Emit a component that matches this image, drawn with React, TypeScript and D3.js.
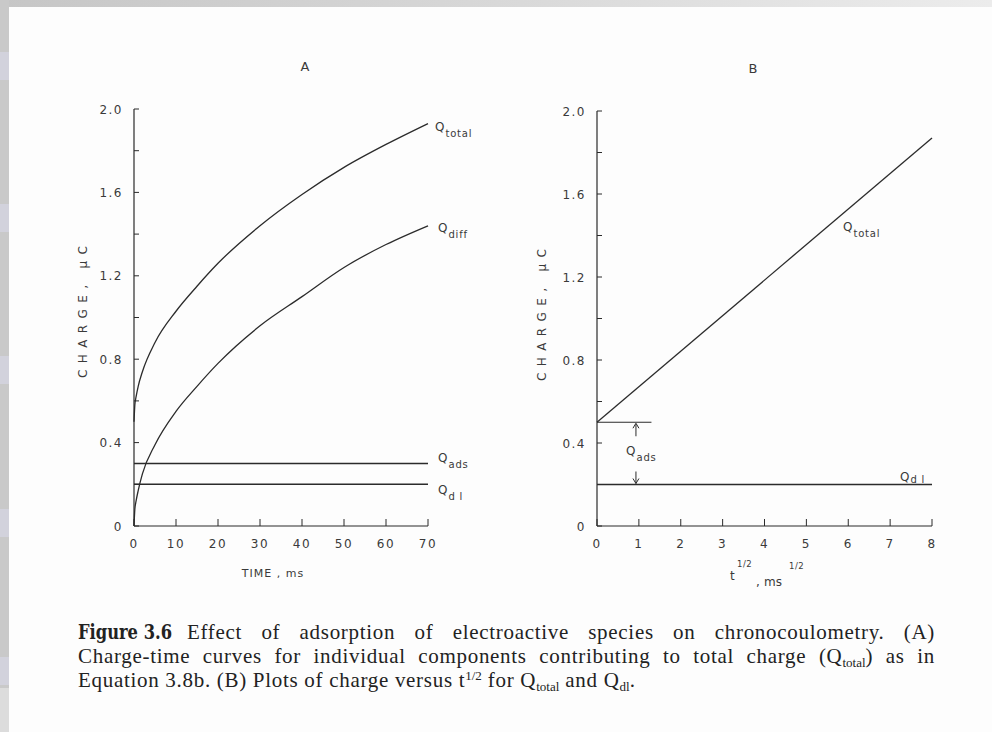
import React, { useLayoutEffect, useRef } from 'react';
import * as d3 from 'd3';

// ---------- data ----------
const timeA = [0, 0.2, 0.5, 1, 2, 5, 10, 15, 20, 30, 40, 50, 60, 70];
const qTotalA = [0.5, 0.58, 0.62, 0.67, 0.74, 0.88, 1.03, 1.15, 1.26, 1.44, 1.59, 1.72, 1.83, 1.93];
const qDiffA = [0, 0.08, 0.12, 0.17, 0.25, 0.39, 0.55, 0.67, 0.78, 0.96, 1.1, 1.24, 1.35, 1.44];
const timeSpanA = [0, 70];
const qAdsA = [0.3, 0.3];
const qDlA = [0.2, 0.2];

const sqrtTB = [0, 8];
const qTotalB = [0.5, 1.87];
const qDlB = [0.2, 0.2];
const qAdsMarkSpanB = [0, 1.3];
const qAdsMarkLevelB = 0.5;

const xTicksA = [0, 10, 20, 30, 40, 50, 60, 70];
const xTicksB = [0, 1, 2, 3, 4, 5, 6, 7, 8];
const yMinorTicks = [0, 0.2, 0.4, 0.6, 0.8, 1.0, 1.2, 1.4, 1.6, 1.8, 2.0];
const yLabelValues = [0, 0.4, 0.8, 1.2, 1.6, 2.0];
const yLabelTexts = ['0', '0.4', '0.8', '1.2', '1.6', '2.0'];

const INK = '#2b2b2b';
const TXT = '#3a3a3a';
const AXF = '"DejaVu Sans", sans-serif';

type Sc = d3.ScaleLinear<number, number>;

function Axes({ x, y, xTicks }: { x: Sc; y: Sc; xTicks: number[] }) {
  const x0 = x(0);
  const yb = y(0);
  const labelRight = x0 - 11;
  return (
    <g>
      <line x1={x0} x2={x0} y1={y(0)} y2={y(2)} stroke={INK} strokeWidth={1.2} />
      <line x1={x0} x2={x(xTicks[xTicks.length - 1])} y1={yb} y2={yb} stroke={INK} strokeWidth={1.2} />
      {yMinorTicks.map((v) => (
        <line key={'yt' + v} x1={x0} x2={x0 + 5} y1={y(v)} y2={y(v)} stroke={INK} strokeWidth={1} />
      ))}
      {xTicks.map((v) => (
        <line key={'xt' + v} x1={x(v)} x2={x(v)} y1={yb} y2={yb - 7} stroke={INK} strokeWidth={1} />
      ))}
      {yLabelValues.map((v, i) => (
        <text key={'yl' + v} x={labelRight} y={y(v) + 4.5} textAnchor="end" fontFamily={AXF} fontSize={12}
          fill={TXT} letterSpacing={1.5}>{yLabelTexts[i]}</text>
      ))}
      {xTicks.map((v) => (
        <text key={'xl' + v} x={x(v)} y={yb + 22} textAnchor="middle" fontFamily={AXF} fontSize={12}
          fill={TXT} letterSpacing={1.5}>{String(v)}</text>
      ))}
    </g>
  );
}

function QLabel({ x, y, sub, drop = 6 }: { x: number; y: number; sub: string; drop?: number }) {
  return (
    <text x={x} y={y} fontFamily={AXF} fontSize={12} fill={TXT}>
      Q
      <tspan dx={1} dy={drop} fontSize={10} letterSpacing={0.8}>{sub}</tspan>
    </text>
  );
}

export default function App() {
  const capRef = useRef<SVGGElement>(null);

  useLayoutEffect(() => {
    const g = capRef.current;
    if (!g) return;
    g.querySelectorAll('text[data-w]').forEach((node) => {
      const el = node as SVGTextElement;
      el.setAttribute('word-spacing', '0');
      const target = Number(el.getAttribute('data-w'));
      const len = el.getComputedTextLength();
      const spaces = ((el.textContent || '').match(/ /g) || []).length;
      if (spaces > 0) el.setAttribute('word-spacing', String((target - len) / spaces));
    });
  }, []);

  // Panel A scales
  const xA = d3.scaleLinear().domain([0, 70]).range([134, 428]);
  const yA = d3.scaleLinear().domain([0, 2]).range([526, 109]);
  // Panel B scales
  const xB = d3.scaleLinear().domain([0, 8]).range([597, 932]);
  const yB = d3.scaleLinear().domain([0, 2]).range([526, 111]);

  const curveA = d3.line<number>().x((_, i) => xA(timeA[i])).y((d) => yA(d)).curve(d3.curveMonotoneX);
  const flatA = d3.line<number>().x((_, i) => xA(timeSpanA[i])).y((d) => yA(d));
  const lineB = d3.line<number>().x((_, i) => xB(sqrtTB[i])).y((d) => yB(d));

  const arrowX = xB(0.93);
  const upTop = yB(qAdsMarkLevelB);
  const dnBot = yB(qDlB[0]);

  const serif = '"Liberation Serif", "Times New Roman", serif';
  const CF = 21;
  const SF = 13;
  const LS = 0.7;

  return (
    <svg width={992} height={732} style={{ position: 'absolute', left: 0, top: 0 }}
      xmlns="http://www.w3.org/2000/svg">
      <defs>
        <linearGradient id="topg" x1="0" x2="1" y1="0" y2="0">
          <stop offset="0" stopColor="#c6c6c6" />
          <stop offset="0.5" stopColor="#d8d8d8" />
          <stop offset="1" stopColor="#ececec" />
        </linearGradient>
      </defs>
      <rect x={0} y={0} width={992} height={732} fill="#fdfdfd" />
      <rect x={0} y={0} width={992} height={7} fill="url(#topg)" />
      <rect x={0} y={0} width={9} height={732} fill="#c9c9c9" />
      {[52, 204, 356, 509, 657].map((b) => (
        <rect key={'band' + b} x={0} y={b} width={9} height={28} fill="#d2d2dc" />
      ))}
      <rect x={0} y={688} width={9} height={44} fill="#dcdcdc" />

      {/* Titles */}
      <text x={305} y={71} textAnchor="middle" fontFamily={AXF} fontSize={13} fill={TXT}>A</text>
      <text x={753} y={73} textAnchor="middle" fontFamily={AXF} fontSize={13} fill={TXT}>B</text>

      {/* Panel A */}
      <Axes x={xA} y={yA} xTicks={xTicksA} />
      <path d={curveA(qTotalA) || ''} fill="none" stroke={INK} strokeWidth={1.3} />
      <path d={curveA(qDiffA) || ''} fill="none" stroke={INK} strokeWidth={1.3} />
      <path d={flatA(qAdsA) || ''} fill="none" stroke={INK} strokeWidth={1.4} />
      <path d={flatA(qDlA) || ''} fill="none" stroke={INK} strokeWidth={1.4} />
      <QLabel x={435} y={131} sub="total" />
      <QLabel x={438} y={232} sub="diff" />
      <QLabel x={438} y={462} sub="ads" />
      <QLabel x={438} y={494} sub="d l" />
      <text transform="translate(87,312) rotate(-90)" textAnchor="middle" fontFamily={AXF} fontSize={12}
        fill={TXT} textLength={132} lengthAdjust="spacing">CHARGE, μC</text>
      <text x={273} y={577} textAnchor="middle" fontFamily={AXF} fontSize={11} fill={TXT}
        letterSpacing={1}>TIME , ms</text>

      {/* Panel B */}
      <Axes x={xB} y={yB} xTicks={xTicksB} />
      <path d={lineB(qTotalB) || ''} fill="none" stroke={INK} strokeWidth={1.3} />
      <path d={lineB(qDlB) || ''} fill="none" stroke={INK} strokeWidth={1.4} />
      <line x1={xB(qAdsMarkSpanB[0])} x2={xB(qAdsMarkSpanB[1])} y1={yB(qAdsMarkLevelB)} y2={yB(qAdsMarkLevelB)}
        stroke={INK} strokeWidth={1.2} />
      {/* dimension arrows */}
      <line x1={arrowX} x2={arrowX} y1={upTop + 14} y2={upTop + 2} stroke={INK} strokeWidth={1} />
      <path d={`M${arrowX - 3},${upTop + 6} L${arrowX},${upTop + 1} L${arrowX + 3},${upTop + 6}`} fill="none" stroke={INK} strokeWidth={1} />
      <line x1={arrowX} x2={arrowX} y1={dnBot - 13} y2={dnBot - 1} stroke={INK} strokeWidth={1} />
      <path d={`M${arrowX - 3},${dnBot - 6} L${arrowX},${dnBot - 1} L${arrowX + 3},${dnBot - 6}`} fill="none" stroke={INK} strokeWidth={1} />
      <QLabel x={843} y={231} sub="total" />
      <QLabel x={626} y={455} sub="ads" />
      <QLabel x={900} y={481} sub="d l" drop={2} />
      <text transform="translate(546,315) rotate(-90)" textAnchor="middle" fontFamily={AXF} fontSize={12}
        fill={TXT} textLength={132} lengthAdjust="spacing">CHARGE, μC</text>
      <g fontFamily={AXF} fill={TXT}>
        <text x={730} y={580} fontSize={12}>t</text>
        <text x={737} y={567} fontSize={8.5} letterSpacing={0.5}>1/2</text>
        <text x={756} y={586} fontSize={12}>,</text>
        <text x={764} y={586} fontSize={12}>ms</text>
        <text x={789} y={569} fontSize={8.5} letterSpacing={0.5}>1/2</text>
      </g>

      {/* Caption */}
      <g ref={capRef} fontFamily={serif} fill="#222">
        <text x={78} y={639} fontSize={CF} fontWeight="bold" fontFamily='"DejaVu Serif", serif'
          textLength={94} lengthAdjust="spacingAndGlyphs">Figure 3.6</text>
        <text x={187} y={639} fontSize={CF} letterSpacing={LS} data-w={748}>
          {'Effect of adsorption of electroactive species on chronocoulometry. (A)'}
        </text>
        <text x={78} y={663} fontSize={CF} letterSpacing={LS} data-w={857}>
          {'Charge-time curves for individual components contributing to total charge (Q'}
          <tspan dy={4} fontSize={SF} letterSpacing={0}>total</tspan>
          <tspan dy={-4}>{') as in'}</tspan>
        </text>
        <text x={78} y={687} fontSize={CF} letterSpacing={LS}>
          {'Equation 3.8b. (B) Plots of charge versus t'}
          <tspan dy={-7} fontSize={SF} letterSpacing={0}>1/2</tspan>
          <tspan dy={7}>{' for Q'}</tspan>
          <tspan dy={4} fontSize={SF} letterSpacing={0}>total</tspan>
          <tspan dy={-4}>{' and Q'}</tspan>
          <tspan dy={4} fontSize={SF} letterSpacing={0}>dl</tspan>
          <tspan dy={-4}>.</tspan>
        </text>
      </g>
    </svg>
  );
}
